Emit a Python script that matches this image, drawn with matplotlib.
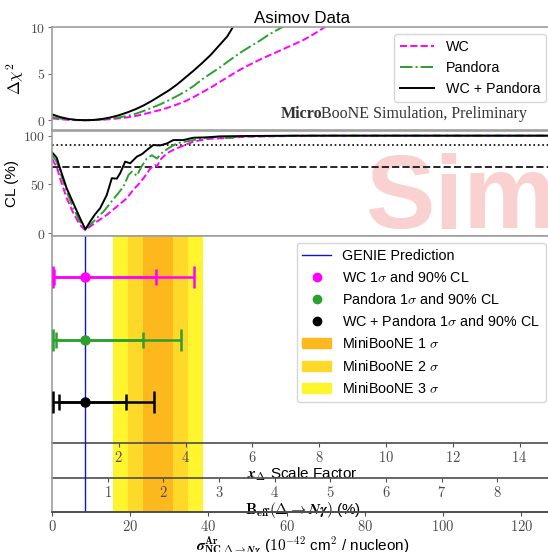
import numpy as np
import matplotlib
matplotlib.use("Agg")
import matplotlib.pyplot as plt
from matplotlib.ticker import FuncFormatter
from matplotlib.lines import Line2D
from matplotlib.patches import Patch

plt.rcParams["font.family"] = ["Liberation Sans", "DejaVu Sans"]
plt.rcParams["mathtext.fontset"] = "cm"

# ---- axis conversions (x_Delta scale factor is the plotting coordinate) ----
SIGMA_PER_XDELTA = 8.54     # 10^-42 cm^2 / nucleon per unit x_Delta
BEFF_PER_XDELTA = 0.6       # % branching per unit x_Delta
GENIE_XDELTA = 1.0

# ---- Delta chi^2 scans ----
chi2_x_wc = [0.0, 0.25, 0.5, 0.75, 1.0, 1.25, 1.5, 1.75, 2.0, 2.25, 2.5, 2.75, 3.0,
             3.25, 3.5, 3.75, 4.0, 4.25, 4.5, 4.75, 5.0, 5.25, 5.5, 5.75, 6.0,
             6.25, 6.5, 6.75, 7.0, 7.25, 7.5, 7.75, 8.0, 8.25]
chi2_wc = [0.2, 0.1, 0.04, 0.01, 0.0, 0.01, 0.05, 0.11, 0.2, 0.3, 0.45, 0.65, 0.88,
           1.1, 1.38, 1.7, 2.05, 2.5, 3.0, 3.5, 4.05, 4.6, 5.15, 5.65, 6.1,
           6.55, 6.95, 7.35, 7.75, 8.15, 8.55, 9.05, 9.6, 10.2]

chi2_x_pandora = [0.0, 0.25, 0.5, 0.75, 1.0, 1.25, 1.5, 1.75, 2.0, 2.25, 2.5, 2.75,
                  3.0, 3.25, 3.5, 3.75, 4.0, 4.25, 4.5, 4.75, 5.0, 5.25, 5.5, 5.75,
                  6.0, 6.25, 6.5, 6.75, 7.0]
chi2_pandora = [0.35, 0.18, 0.07, 0.02, 0.0, 0.02, 0.08, 0.18, 0.3, 0.45, 0.68, 1.0,
                1.35, 1.72, 2.15, 2.6, 3.1, 3.7, 4.4, 5.0, 5.6, 6.25, 6.9, 7.5,
                8.05, 8.6, 9.2, 9.7, 10.2]

chi2_x_comb = [0.0, 0.25, 0.5, 0.75, 1.0, 1.25, 1.5, 1.75, 2.0, 2.25, 2.5, 2.75,
               3.0, 3.25, 3.5, 3.75, 4.0, 4.25, 4.5, 4.75, 5.0, 5.25, 5.5]
chi2_comb = [0.63, 0.33, 0.13, 0.03, 0.0, 0.03, 0.13, 0.3, 0.53, 0.83, 1.18, 1.6,
             2.1, 2.65, 3.2, 3.85, 4.6, 5.35, 6.15, 7.0, 8.0, 9.0, 10.5]

# ---- confidence level scans (%) ----
cl_x_wc = [0.0, 0.14, 0.24, 0.44, 0.64, 0.84, 0.99, 1.14, 1.34, 1.64, 1.94, 2.24,
           2.43, 2.64, 2.84, 2.93, 3.08, 3.15, 3.23, 3.44, 3.63, 3.93, 4.23, 4.63,
           5.03, 5.42, 5.83, 7.1, 8.3, 15.0]
cl_wc = [76, 68.3, 56.4, 35.9, 20.5, 8.5, 3.4, 6.8, 11.9, 18.8, 27.3, 35.9,
         44.4, 52, 61, 66, 70, 68.5, 75, 82, 85.4, 89.8, 93.9, 96.6,
         97.3, 98, 99, 99.6, 100, 100]

cl_x_pandora = [0.0, 0.14, 0.24, 0.44, 0.64, 0.84, 0.99, 1.14, 1.34, 1.54, 1.74, 1.94,
                2.14, 2.29, 2.39, 2.54, 2.69, 2.84, 2.99, 3.14, 3.33, 3.53, 3.73, 3.93,
                4.23, 4.63, 5.03, 5.23, 5.63, 6.23, 7.43, 15.0]
cl_pandora = [80, 73.4, 63.1, 42.6, 25.6, 11.9, 4.4, 8.5, 15.4, 22.1, 30.7, 39.2,
              47.8, 59.7, 63.1, 59, 69, 76.6, 80, 76.6, 83.6, 88, 92, 93.5,
              95.5, 97.9, 98.6, 97.5, 99.3, 99.6, 100, 100]

cl_x_comb = [0.0, 0.14, 0.24, 0.44, 0.64, 0.84, 1.0, 1.14, 1.29, 1.44, 1.64, 1.79,
             1.94, 2.04, 2.19, 2.34, 2.54, 2.69, 2.88, 3.03, 3.23, 3.44, 3.63, 3.93,
             4.23, 4.63, 5.03, 5.93, 7.4, 15.0]
cl_comb = [83, 77.5, 66.6, 46, 30.7, 15.4, 4, 11.9, 19.5, 25.6, 39.2, 56.4,
           56, 61.5, 73.4, 71.7, 78.5, 81, 86.4, 90.4, 90, 92, 95.5, 95.5,
           97.9, 98.3, 99.3, 99.7, 100, 100]

CL_1SIGMA = 68.27
CL_90 = 90.0

# ---- extracted intervals (x_Delta): best fit, 1 sigma, 90% CL ----
fit_names = ["WC", "Pandora", "WC + Pandora"]
fit_best = [1.0, 1.0, 1.0]
fit_1s_lo = [0.05, 0.12, 0.21]
fit_1s_hi = [3.10, 2.73, 2.21]
fit_90_lo = [0.02, 0.04, 0.02]
fit_90_hi = [4.26, 3.85, 3.06]
fit_rows = [3, 2, 1]

# ---- MiniBooNE x_Delta measurement ----
mb_center = 3.18
mb_sigma = 0.45

colors = {"WC": "#ff00ff", "Pandora": "#2ca02c", "WC + Pandora": "black"}
band_colors = ["#fdb81e", "#ffd92a", "#fff52e"]

fig = plt.figure(figsize=(5.48, 5.52), dpi=100)
W, H = 548.0, 552.0
left = 52 / W
width = 501 / W
ax1 = fig.add_axes([left, (H - 130) / H, width, 103 / H])
ax2 = fig.add_axes([left, (H - 236) / H, width, 105 / H])
ax3 = fig.add_axes([left, (H - 512) / H, width, 276 / H])

tick_fmt = FuncFormatter(lambda v, p: f"${v:g}$")
spine_grey = "0.62"

for ax in (ax1, ax2, ax3):
    ax.set_xlim(0, 15)
    for s in ax.spines.values():
        s.set_color(spine_grey)
        s.set_linewidth(1.2)
    ax.spines["right"].set_visible(False)
    ax.tick_params(axis="both", colors="0.45", labelcolor="0.3", labelsize=10,
                   length=3, width=0.8, pad=2)
    ax.tick_params(axis="x", bottom=False, labelbottom=False)
    ax.yaxis.set_major_formatter(tick_fmt)

# ---- top: Delta chi^2 ----
ax1.plot(chi2_x_wc, chi2_wc, color=colors["WC"], ls="--", lw=1.4, label="WC")
ax1.plot(chi2_x_pandora, chi2_pandora, color=colors["Pandora"], ls="-.", lw=1.4,
         label="Pandora")
ax1.plot(chi2_x_comb, chi2_comb, color=colors["WC + Pandora"], ls="-", lw=1.4,
         label="WC + Pandora")
ax1.set_ylim(-1.05, 10)
ax1.set_yticks([0, 5, 10])
ax1.set_ylabel(r"$\Delta\chi^2$", fontsize=12, labelpad=3)
ax1.set_title("Asimov Data", fontsize=12.2, pad=3)
ax1.legend(loc="upper right", fontsize=10.3, handlelength=2.4)

serif = ["Liberation Serif", "DejaVu Serif"]
t_micro = ax1.text(0.457, 0.08, "Micro", transform=ax1.transAxes, family=serif,
                   fontweight="bold", fontsize=11.5, color="0.2", va="bottom")
ax1.annotate("BooNE Simulation, Preliminary", xy=(1, 0), xycoords=t_micro,
             xytext=(-1.2, 0), textcoords="offset points",
             family=serif, fontsize=11.5, color="0.2", va="bottom", ha="left")

# ---- middle: confidence level ----
ax2.text(0.627, 0.075, "Simulation", transform=ax2.transAxes,
         family=["Liberation Sans Narrow", "Liberation Sans", "DejaVu Sans"],
         fontweight="bold", fontsize=75, color="#e8302a", alpha=0.22,
         va="baseline", ha="left", zorder=0.5, clip_on=False)
ax2.axhline(CL_90, color="black", ls=":", lw=1.2)
ax2.axhline(CL_1SIGMA, color="0.15", ls="--", lw=1.4)
ax2.plot(cl_x_wc, cl_wc, color=colors["WC"], ls="--", lw=1.4)
ax2.plot(cl_x_pandora, cl_pandora, color=colors["Pandora"], ls="-.", lw=1.4)
ax2.plot(cl_x_comb, cl_comb, color=colors["WC + Pandora"], ls="-", lw=1.4)
ax2.set_ylim(-2.8, 104.8)
ax2.set_yticks([0, 50, 100])
ax2.set_ylabel("CL (%)", fontsize=11, labelpad=3)

# ---- bottom: intervals and MiniBooNE bands ----
for k, c in zip([3, 2, 1], band_colors[::-1]):
    ax3.axvspan(mb_center - k * mb_sigma, mb_center + k * mb_sigma,
                color=c, lw=0, zorder=0)
ax3.axvline(GENIE_XDELTA, color="#1010e0", lw=1.0, zorder=1)

for i, name in enumerate(fit_names):
    c = colors[name]
    y = fit_rows[i]
    b = fit_best[i]
    ax3.errorbar([b], [y],
                 xerr=[[b - fit_90_lo[i]], [fit_90_hi[i] - b]],
                 fmt="none", ecolor=c, elinewidth=1.8, capsize=8, capthick=1.8,
                 zorder=3)
    ax3.errorbar([b], [y],
                 xerr=[[b - fit_1s_lo[i]], [fit_1s_hi[i] - b]],
                 fmt="o", color=c, ms=6.5, ecolor=c, elinewidth=1.8,
                 capsize=5.5, capthick=1.8, zorder=4)

ax3.set_ylim(-0.76, 3.656)
ax3.set_yticks([])

legend_handles = [
    Line2D([], [], color="#1010e0", lw=1.0),
    Line2D([], [], marker="o", ls="none", color=colors["WC"], ms=6),
    Line2D([], [], marker="o", ls="none", color=colors["Pandora"], ms=6),
    Line2D([], [], marker="o", ls="none", color=colors["WC + Pandora"], ms=6),
    Patch(color=band_colors[0]),
    Patch(color=band_colors[1]),
    Patch(color=band_colors[2]),
]
legend_labels = [
    "GENIE Prediction",
    r"WC 1$\sigma$ and 90% CL",
    r"Pandora 1$\sigma$ and 90% CL",
    r"WC + Pandora 1$\sigma$ and 90% CL",
    r"MiniBooNE 1 $\sigma$",
    r"MiniBooNE 2 $\sigma$",
    r"MiniBooNE 3 $\sigma$",
]
ax3.legend(legend_handles, legend_labels, loc="upper right", fontsize=10.3,
           handlelength=2.0)

# stacked x axes: x_Delta, B_eff and cross section
axis_dark = "0.3"
sec_x = ax3.secondary_xaxis(0.25, functions=(lambda x: x, lambda x: x))
sec_x.set_xticks([2, 4, 6, 8, 10, 12, 14])
sec_x.set_xlabel(r"$\boldsymbol{x}_{\boldsymbol{\Delta}}$ Scale Factor",
                 fontsize=11, labelpad=0)

sec_b = ax3.secondary_xaxis(0.123, functions=(lambda x: x * BEFF_PER_XDELTA,
                                              lambda b: b / BEFF_PER_XDELTA))
sec_b.set_xticks([1, 2, 3, 4, 5, 6, 7, 8])
sec_b.set_xlabel(r"$\mathbf{B}_{\mathbf{eff}}\mathbf{(}\boldsymbol{\Delta}\rightarrow"
                 r"\boldsymbol{N\gamma}\mathbf{)}$ (%)", fontsize=11, labelpad=0)

sec_s = ax3.secondary_xaxis("bottom", functions=(lambda x: x * SIGMA_PER_XDELTA,
                                                 lambda s: s / SIGMA_PER_XDELTA))
sec_s.set_xticks([0, 20, 40, 60, 80, 100, 120])
sec_s.set_xlabel(r"$\boldsymbol{\sigma}^{\mathbf{Ar}}_{\mathbf{NC}\ \boldsymbol{\Delta\rightarrow N\gamma}}$"
                 r" ($\mathbf{10^{-42}}$ cm$^2$ / nucleon)", fontsize=11, labelpad=0.5)

for sec in (sec_x, sec_b, sec_s):
    sec.xaxis.set_major_formatter(tick_fmt)
    sec.tick_params(colors=axis_dark, labelcolor="0.3", labelsize=10.5,
                    length=3, width=0.8, pad=2)
    sec.spines["bottom"].set_color(axis_dark)
    sec.spines["bottom"].set_linewidth(1.2)
ax3.spines["bottom"].set_color(axis_dark)

fig.savefig("out.png", dpi=100)
